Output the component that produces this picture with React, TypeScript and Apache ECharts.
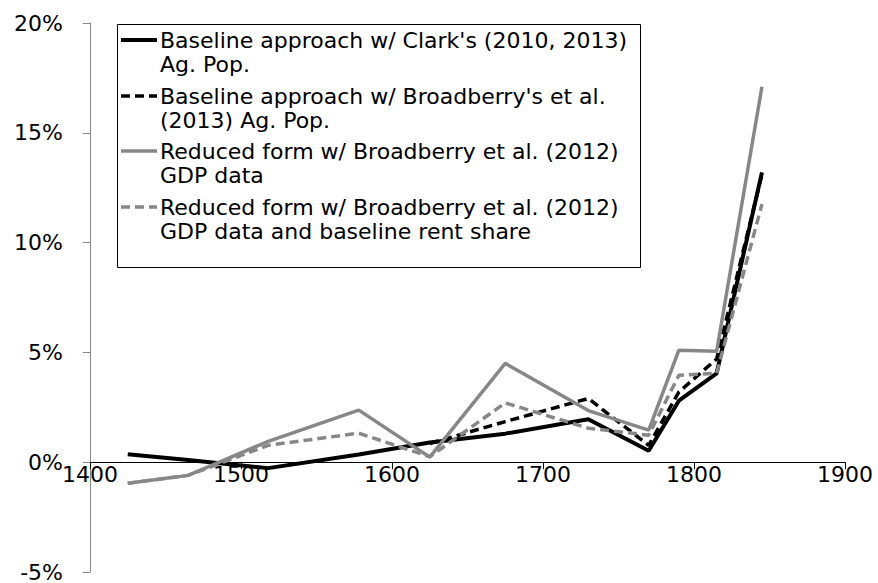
import React, { useEffect, useRef } from "react";
import * as echarts from "echarts";

const years = [1425, 1465, 1518, 1578, 1625, 1675, 1730, 1770, 1790, 1815, 1845];
const clarkAgPop = [0.36, 0.1, -0.27, 0.35, 0.9, 1.3, 1.96, 0.52, 2.8, 4.05, 13.2];
const broadberryAgPop = [null, null, null, null, 0.85, 1.85, 2.9, 0.77, 3.2, 4.7, 13.1];
const gdpReduced = [-0.96, -0.6, 0.95, 2.37, 0.23, 4.5, 2.35, 1.46, 5.1, 5.05, 17.1];
const gdpRentShare = [-0.96, -0.6, 0.77, 1.32, 0.25, 2.7, 1.55, 1.23, 3.96, 4.05, 11.75];

const yTicks = [-5, 0, 5, 10, 15, 20];
const xTicks = [1400, 1500, 1600, 1700, 1800, 1900];
const Y_MIN = -5;
const Y_MAX = 20;

const legendItems = [
  ["Baseline approach w/ Clark's (2010, 2013)", "Ag. Pop."],
  ["Baseline approach w/ Broadberry's et al.", "(2013) Ag. Pop."],
  ["Reduced form w/ Broadberry et al. (2012)", "GDP data"],
  ["Reduced form w/ Broadberry et al. (2012)", "GDP data and baseline rent share"],
];

const FONT = "DejaVu Sans, Verdana, sans-serif";
const GRAY = "#878787";

export default function App() {
  const ref = useRef<HTMLDivElement>(null);
  useEffect(() => {
    if (!ref.current) return;
    const chart = echarts.init(ref.current, undefined, { renderer: "svg" });
    const pair = (vals: (number | null)[]) => years.map((y, i) => [y, vals[i] === null ? "-" : vals[i]]);
    const styles = [
      { color: "#000", width: 4, type: "solid" },
      { color: "#000", width: 3.5, type: [9, 5] },
      { color: GRAY, width: 3.5, type: "solid" },
      { color: GRAY, width: 3.5, type: [9, 5] },
    ];
    const seriesData = [clarkAgPop, broadberryAgPop, gdpReduced, gdpRentShare];
    const gridTop = 23;
    const gridBottom = 11;
    const plotH = 583 - gridTop - gridBottom;
    const zeroOffset = -plotH * ((0 - Y_MIN) / (Y_MAX - Y_MIN));
    const legendTop = [40, 96, 151, 207];
    const graphics: any[] = [
      {
        type: "rect",
        shape: { x: 117.5, y: 24.5, width: 523, height: 243 },
        style: { fill: "#fff", stroke: "#000", lineWidth: 1 },
        z: 100,
      },
    ];
    legendItems.forEach((lines, i) => {
      const s = styles[i];
      graphics.push({
        type: "line",
        shape: { x1: 121, y1: legendTop[i], x2: 157, y2: legendTop[i] },
        style: { stroke: s.color, lineWidth: s.width, lineDash: s.type === "solid" ? null : [9, 5] },
        z: 101,
      });
      lines.forEach((t, j) => {
        graphics.push({
          type: "text",
          x: 160,
          y: legendTop[i] + j * 24.5,
          style: { text: t, font: `22px ${FONT}`, fill: "#000", verticalAlign: "middle", align: "left" },
          z: 101,
        });
      });
    });
    chart.setOption({
      animation: false,
      backgroundColor: "#fff",
      grid: { left: 90, right: 33, top: gridTop, bottom: gridBottom, containLabel: false },
      xAxis: {
        type: "value",
        min: 1400,
        max: 1900,
        interval: 100,
        offset: zeroOffset,
        axisLine: { onZero: false, lineStyle: { color: "#000", width: 1 } },
        axisTick: { show: true, inside: false, length: 7, lineStyle: { color: "#000" } },
        axisLabel: { fontFamily: FONT, fontSize: 22, color: "#000", margin: 1, formatter: (v: number) => (xTicks.includes(v) ? String(v) : "") },
        splitLine: { show: false },
      },
      yAxis: {
        type: "value",
        min: Y_MIN,
        max: Y_MAX,
        interval: 5,
        axisLine: { show: true, lineStyle: { color: "#868686", width: 1 } },
        axisTick: { show: true, inside: false, length: 7, lineStyle: { color: "#868686" } },
        axisLabel: { fontFamily: FONT, fontSize: 22, color: "#000", margin: 27, formatter: (v: number) => (yTicks.includes(v) ? `${v}%` : "") },
        splitLine: { show: false },
      },
      series: seriesData.map((d, i) => ({
        type: "line",
        name: legendItems[i].join(" "),
        data: pair(d),
        showSymbol: false,
        connectNulls: false,
        lineStyle: { color: styles[i].color, width: styles[i].width, type: styles[i].type as any },
        itemStyle: { color: styles[i].color },
        z: 2 + i,
      })),
      graphic: graphics,
    });
    return () => chart.dispose();
  }, []);
  return <div ref={ref} style={{ width: 878, height: 583, position: "absolute", left: 0, top: 0 }} />;
}
